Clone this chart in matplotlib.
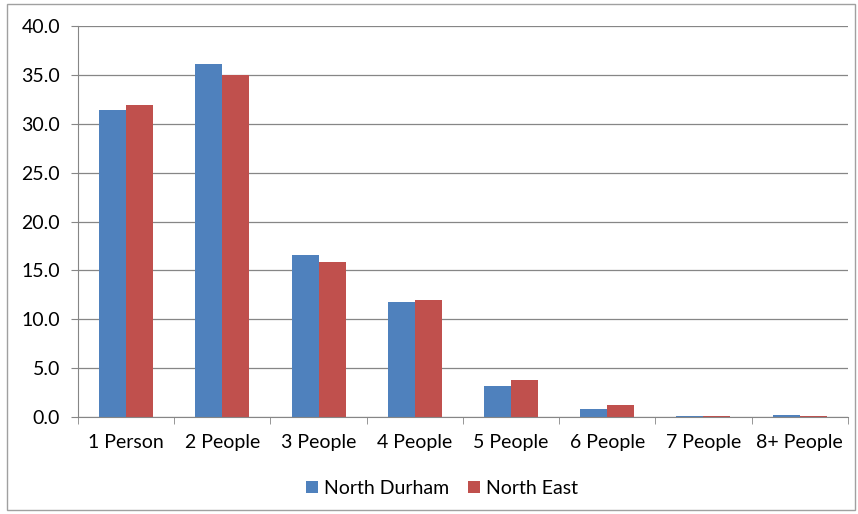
import numpy as np
import matplotlib.pyplot as plt
from matplotlib.patches import Rectangle

categories = ['1 Person', '2 People', '3 People', '4 People', '5 People', '6 People', '7 People', '8+ People']
north_durham = [31.4, 36.1, 16.6, 11.8, 3.2, 0.8, 0.1, 0.2]
north_east = [31.9, 35.0, 15.9, 12.0, 3.8, 1.2, 0.1, 0.1]
series_names = ['North Durham', 'North East']

plt.rcParams['font.family'] = ['Lato', 'DejaVu Sans']

fig = plt.figure(figsize=(8.58, 5.14), dpi=100)
fig.patches.append(Rectangle((0.008, 0.008), 0.988, 0.984, transform=fig.transFigure,
                             fill=False, edgecolor='#a0a0a0', linewidth=1))
ax = fig.add_axes([0.091, 0.189, 0.897, 0.760])

x = np.arange(len(categories))
w = 0.28
ax.bar(x - w / 2, north_durham, w, color='#4f81bd', label=series_names[0])
ax.bar(x + w / 2, north_east, w, color='#c0504d', label=series_names[1])

fs = 14
ax.set_xlim(-0.5, len(categories) - 0.5)
ax.set_ylim(0, 40)
ax.set_yticks(np.arange(0, 41, 5))
ax.set_yticklabels([f'{v:.1f}' for v in np.arange(0, 41, 5)], fontsize=fs)
ax.set_xticks(x)
ax.set_xticklabels(categories, fontsize=fs)
ax.set_xticks(np.arange(-0.5, len(categories)), minor=True)
ax.tick_params(axis='x', which='major', length=0, pad=12)
ax.tick_params(axis='x', which='minor', length=5, color='#868686', direction='out')
ax.tick_params(axis='y', length=5, color='#868686', direction='out', pad=8)
ax.yaxis.grid(True, color='#868686', linewidth=0.9)
ax.set_axisbelow(True)
for s in ['top', 'right']:
    ax.spines[s].set_visible(False)
for s in ['left', 'bottom']:
    ax.spines[s].set_color('#868686')

fig.legend(loc='center', bbox_to_anchor=(0.515, 0.05), ncol=2, frameon=False,
           fontsize=fs, handlelength=0.6, handleheight=0.6, handletextpad=0.3,
           columnspacing=1.0)

fig.savefig('out.png', dpi=100)
